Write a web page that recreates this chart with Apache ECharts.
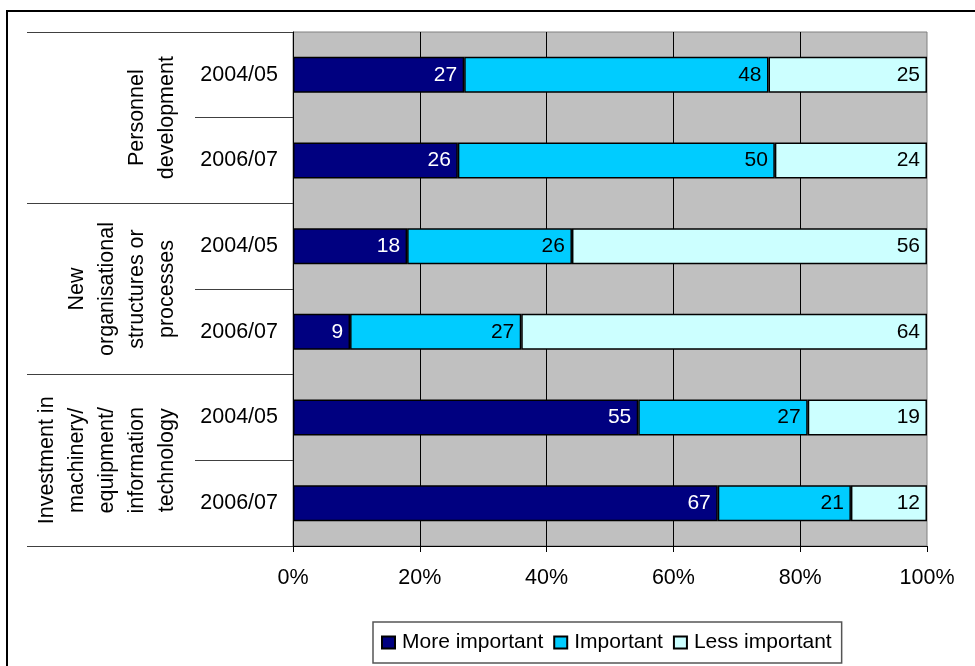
<!DOCTYPE html>
<html>
<head>
<meta charset="utf-8">
<title>Importance of innovation activities</title>
<script src="https://cdn.jsdelivr.net/npm/echarts@6/dist/echarts.min.js"></script>
<style>
  html, body { margin: 0; padding: 0; background: #fff; }
  #chart { width: 975px; height: 666px; }
</style>
</head>
<body>
<div id="chart"></div>
<script>
// Survey periods, one bar each, three activity groups of two bars
const periods = ['2004/05', '2006/07', '2004/05', '2006/07', '2004/05', '2006/07'];
const groups = [
  'Personnel\ndevelopment',
  'New\norganisational\nstructures or\nprocesses',
  'Investment in\nmachinery/\nequipment/\ninformation\ntechnology'
];
const xTicks = [0, 20, 40, 60, 80, 100];

// Shares of firms (%) rating each activity
const moreImportant = [27, 26, 18, 9, 55, 67];
const important = [48, 50, 26, 27, 27, 21];
const lessImportant = [25, 24, 56, 64, 19, 12];
const seriesNames = ['More important', 'Important', 'Less important'];

const FONT = '"Liberation Sans", Arial, sans-serif';

// 100% stacked: each bar is scaled to its row total
const rows = [moreImportant, important, lessImportant];
const totals = periods.map((_, i) => rows.reduce((s, r) => s + r[i], 0));
const shareOf = arr => arr.map((v, i) => v / totals[i] * 100);

function barSeries(name, values, color, labelColor) {
  return {
    name: name,
    type: 'bar',
    stack: 'all',
    barWidth: 36,
    data: shareOf(values),
    itemStyle: { color: color, borderColor: '#000', borderWidth: 1.5 },
    label: {
      show: true,
      position: 'insideRight',
      distance: 7,
      fontFamily: FONT,
      fontSize: 21,
      color: labelColor,
      formatter: p => String(values[p.dataIndex])
    },
    emphasis: { disabled: true },
    animation: false
  };
}

const chart = echarts.init(document.getElementById('chart'), null, { renderer: 'canvas' });
chart.setOption({
  backgroundColor: '#fff',
  animation: false,
  textStyle: { fontFamily: FONT, color: '#000' },
  grid: {
    left: 293, right: 48, top: 32, bottom: 120,
    show: true,
    backgroundColor: '#C0C0C0',
    borderColor: '#808080',
    borderWidth: 1
  },
  graphic: [{
    type: 'rect',
    shape: { x: 7, y: 11, width: 1000, height: 700 },
    style: { fill: 'none', stroke: '#000', lineWidth: 2 },
    silent: true
  }],
  legend: {
    left: 373,
    top: 622,
    padding: [10, 10, 10, 8],
    itemGap: 10,
    itemWidth: 13,
    itemHeight: 12,
    icon: 'rect',
    borderColor: '#555',
    borderWidth: 1.5,
    backgroundColor: '#fff',
    selectedMode: false,
    textStyle: { fontFamily: FONT, fontSize: 21, color: '#000', padding: [0, 0, 0, 2] },
    data: seriesNames
  },
  xAxis: {
    type: 'value',
    min: xTicks[0],
    max: xTicks[xTicks.length - 1],
    interval: xTicks[1] - xTicks[0],
    axisLine: { show: true, lineStyle: { color: '#000', width: 1 } },
    axisTick: { show: true, length: 6, lineStyle: { color: '#000' } },
    axisLabel: {
      margin: 21,
      fontFamily: FONT,
      fontSize: 21.5,
      color: '#000',
      formatter: v => v + '%'
    },
    splitLine: { show: true, showMaxLine: false, lineStyle: { color: '#000', width: 1 } }
  },
  yAxis: [{
    type: 'category',
    inverse: true,
    data: periods,
    axisLine: { show: true, lineStyle: { color: '#000', width: 1 } },
    axisTick: { show: true, interval: 0, length: 98, lineStyle: { color: '#404040', width: 1 } },
    axisLabel: { interval: 0, margin: 15, fontFamily: FONT, fontSize: 21.5, color: '#000' },
    splitLine: { show: false }
  }, {
    type: 'category',
    inverse: true,
    position: 'left',
    offset: 0,
    data: groups,
    axisLine: { show: false },
    axisTick: { show: true, interval: 0, length: 266, lineStyle: { color: '#404040', width: 1 } },
    axisLabel: {
      interval: 0,
      hideOverlap: false,
      rotate: 90,
      margin: 111,
      align: 'center',
      verticalAlign: 'bottom',
      lineHeight: 30,
      fontFamily: FONT,
      fontSize: 21.5,
      color: '#000'
    },
    splitLine: { show: false }
  }],
  series: [
    barSeries(seriesNames[0], moreImportant, '#000080', '#fff'),
    barSeries(seriesNames[1], important, '#00CCFF', '#000'),
    barSeries(seriesNames[2], lessImportant, '#CCFFFF', '#000')
  ]
});
</script>
</body>
</html>
